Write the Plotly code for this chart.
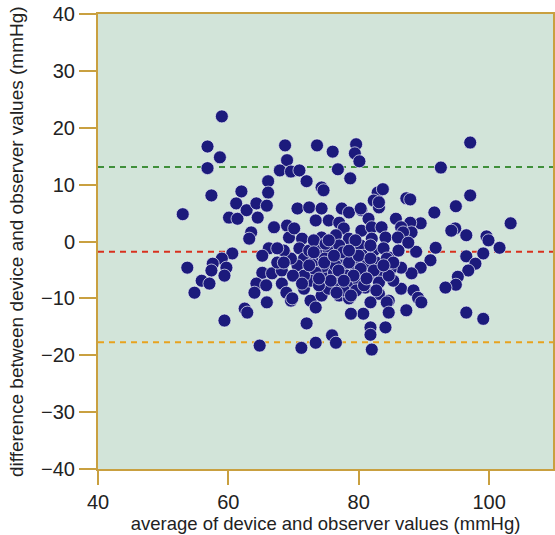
import plotly.graph_objects as go

# average of device and observer (mmHg)
avg = [
    59.0, 56.8, 58.7, 56.8, 57.4, 53.0, 68.7, 69.0, 67.9, 69.6,
    66.1, 66.1, 62.0, 73.6, 76.0, 79.6, 79.4, 80.1, 70.9, 76.8,
    78.7, 72.0, 74.3, 74.6, 82.9, 83.7, 87.3, 97.1, 92.6, 97.1,
    94.9, 91.6, 87.9, 103.3, 89.5, 87.9, 94.8, 80.4, 82.3, 83.1,
    81.5, 85.7, 86.5, 88.1, 94.2, 96.5, 99.6, 99.9, 101.6, 91.8,
    88.8, 96.5, 99.1, 97.9, 96.8, 95.2, 94.9, 93.3, 91.0, 89.5,
    88.1, 86.5, 86.5, 88.4, 89.1, 89.6, 87.3, 96.5, 99.1, 84.6,
    83.1, 81.8, 80.7, 84.1, 81.8, 81.8, 82.0, 80.0, 82.6, 84.6,
    83.5, 81.0, 61.2, 60.1, 61.4, 62.8, 64.3, 65.9, 64.5, 67.0,
    63.5, 63.2, 69.0, 69.3, 60.6, 59.0, 57.6, 57.4, 59.7, 59.4,
    53.7, 55.9, 57.1, 54.8, 66.2, 65.2, 65.2, 66.7, 68.2, 64.3,
    65.8, 64.0, 68.2, 68.9, 65.9, 69.6, 62.5, 62.9, 59.4, 64.8,
    71.6, 69.8, 72.6, 73.4, 74.3, 77.0, 78.5, 78.8, 84.3, 84.6,
    72.0, 75.9, 76.5, 73.4, 71.2, 70.6, 72.4, 74.3, 77.4, 78.5,
    80.3, 83.1, 73.4, 75.4, 77.0, 77.7, 80.4, 82.0, 83.5, 86.8,
    70.1, 71.3, 74.3, 76.5, 78.5, 82.0, 84.1, 86.0, 87.6,
    70.9, 71.6, 70.6, 72.4, 73.1, 73.9, 74.2, 74.6, 75.1, 75.4,
    75.9, 76.2, 76.7, 77.0, 77.3, 77.7, 78.2, 78.5, 78.8, 79.3,
    79.6, 80.0, 80.3, 80.7, 81.2, 81.5, 82.3, 82.7, 83.4, 83.8,
    84.3, 84.9, 85.3, 73.4, 72.6, 71.6, 75.4, 77.7, 79.6, 73.9,
    74.8, 76.4, 77.6, 75.7, 73.1, 74.9, 69.6, 69.9, 68.5, 67.5,
    73.1, 74.7, 76.2, 76.9, 78.5, 80.0, 80.3, 81.8, 82.3, 83.1,
    84.6, 79.2, 77.7, 80.8, 81.8, 79.5, 75.4, 72.4, 73.9, 76.6,
    78.8, 82.7, 85.3, 86.1, 71.3, 68.5, 67.5, 78.5, 81.2, 83.8,
]

# difference between device and observer (mmHg)
diff = [
    22.0, 16.7, 14.8, 12.9, 8.1, 4.8, 16.9, 14.3, 12.5, 12.3,
    10.6, 8.6, 8.8, 16.9, 15.8, 17.1, 15.5, 14.1, 12.5, 12.7,
    11.1, 10.6, 9.5, 9.0, 8.6, 9.2, 7.6, 17.4, 13.0, 8.1,
    6.2, 5.1, 7.4, 3.2, 3.2, 3.3, 2.3, 5.5, 7.2, 6.0,
    4.0, 4.0, 2.5, 1.6, 1.9, 1.1, 0.9, 0.2, -1.1, -1.1,
    -1.8, -2.6, -2.1, -3.9, -5.1, -6.2, -7.6, -8.1, -3.3, -4.6,
    -5.6, -4.6, -8.3, -8.6, -9.9, -10.7, -12.1, -12.5, -13.6, -10.4,
    -9.2, -10.7, -12.7, -15.1, -15.1, -16.4, -19.0, -4.6, -4.6, -2.8,
    -5.6, -8.1, 6.7, 4.2, 4.0, 5.5, 6.7, 6.3, 4.2, 2.5,
    1.6, 0.5, 2.8, 0.7, -2.1, -3.0, -3.9, -5.1, -4.6, -6.0,
    -4.6, -6.9, -7.4, -9.0, -1.2, -2.5, -5.5, -5.6, -5.1, -7.4,
    -7.7, -9.0, -7.4, -9.0, -10.7, -10.4, -11.8, -12.5, -13.9, -18.3,
    -8.3, -10.0, -10.4, -11.6, -9.5, -9.5, -10.0, -12.7, -10.7, -12.5,
    -14.4, -16.5, -17.8, -17.8, -18.7, 5.8, 6.0, 5.8, 5.8, 5.1,
    5.8, 6.9, 3.7, 3.7, 3.3, 2.3, 1.9, 2.5, 2.5, 1.6,
    2.3, 0.5, 0.7, 1.1, 0.5, 0.5, 0.7, 0.7, -0.2,
    -1.2, -3.0, -4.2, -1.6, -3.7, -0.7, -2.5, -4.8, -6.5, -1.6,
    -3.3, -5.5, -7.4, -0.7, -2.5, -4.2, -6.0, -7.7, -1.6, -3.3,
    -5.1, -6.9, -0.7, -2.5, -4.2, -6.0, -1.6, -3.7, -5.5, -1.2,
    -3.0, -4.8, -6.9, -5.5, -6.9, -6.0, -8.3, -8.6, -8.6, -7.7,
    -3.0, -4.2, -1.9, -6.9, 0.2, -0.4, -3.0, -6.0, -1.6, -3.7,
    -1.9, -3.7, -2.5, -5.1, -3.7, -2.5, -4.8, -3.0, -5.1, -7.2,
    -6.0, -6.0, -6.9, -7.7, -0.7, 0.2, 0.2, -4.2, -6.5, -9.0,
    -9.5, -8.6, -3.7, -1.6, -7.4, -3.7, -1.2, -1.6, -6.5, -4.2,
]

# reference lines: upper limit, mean difference, lower limit
line_names = ["upper limit", "mean difference", "lower limit"]
line_values = [13.1, -1.8, -17.7]
line_colors = ["#3f8f3a", "#d8301e", "#e8a21e"]

x_ticks = [40, 60, 80, 100]
y_ticks = [-40, -30, -20, -10, 0, 10, 20, 30, 40]

x_title = "average of device and observer values (mmHg)"
y_title = "difference between device and observer values (mmHg)"

axis_color = "#c9a040"
font_family = "Liberation Sans, Arial, sans-serif"

fig = go.Figure()
fig.add_trace(go.Scatter(
    x=avg, y=diff, mode="markers",
    marker=dict(size=13, color="#1c1a7c",
                line=dict(width=0.8, color="rgba(235,240,245,0.9)")),
    showlegend=False, hoverinfo="skip",
))

for name, val, col in zip(line_names, line_values, line_colors):
    fig.add_shape(type="line", xref="paper", x0=0, x1=1, yref="y", y0=val, y1=val,
                  line=dict(color=col, width=2, dash="6px,5px"), layer="below")

fig.add_annotation(text=y_title, xref="paper", yref="paper", x=-0.179, y=0.5,
                   xanchor="center", yanchor="middle", textangle=-90,
                   showarrow=False, font=dict(size=19, color="#222222"))

fig.update_layout(
    width=555, height=535,
    margin=dict(l=98, r=0, t=14, b=66),
    paper_bgcolor="white",
    plot_bgcolor="#d2e4d9",
    font=dict(family=font_family, color="#222222", size=20),
    xaxis=dict(
        range=[40, 109.8], tickvals=x_ticks, showgrid=False, zeroline=False,
        showline=True, linecolor=axis_color, linewidth=2, mirror=True,
        ticks="outside", ticklen=14, tickwidth=2, tickcolor=axis_color,
        tickfont=dict(size=20),
        title=dict(text=x_title, font=dict(size=18.5), standoff=2),
    ),
    yaxis=dict(
        range=[-40, 40], tickvals=y_ticks, showgrid=False, zeroline=False,
        showline=True, linecolor=axis_color, linewidth=2, mirror=True,
        ticks="outside", ticklen=17, tickwidth=2, tickcolor=axis_color,
        tickfont=dict(size=20),
    ),
)

fig.write_html("out.html")
